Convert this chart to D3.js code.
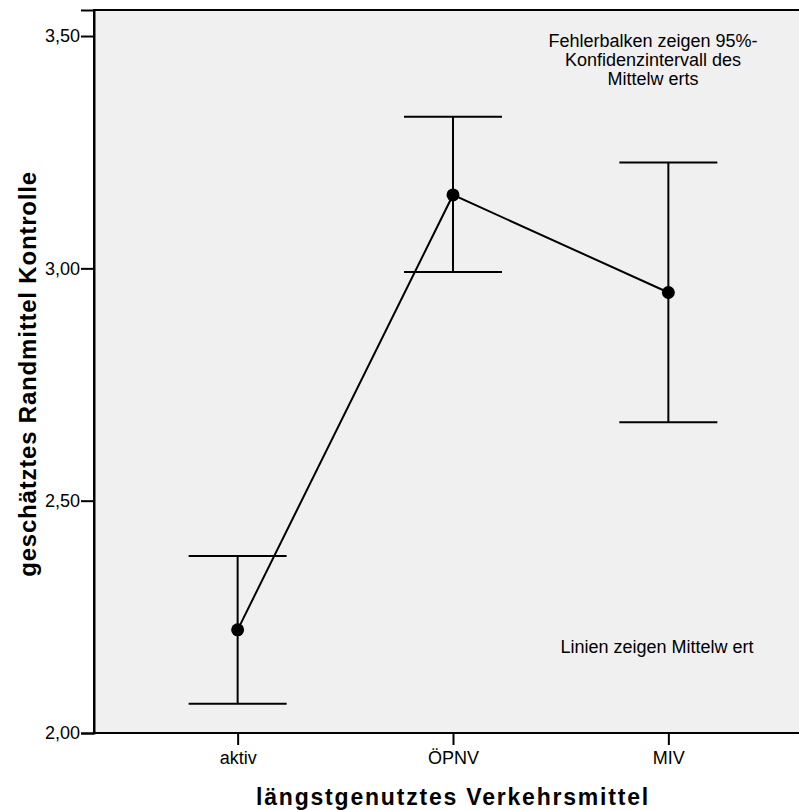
<!DOCTYPE html>
<html>
<head>
<meta charset="utf-8">
<script src="https://cdn.jsdelivr.net/npm/d3@7"></script>
<style>
  body { margin: 0; background: #fff; }
  text { font-family: "Liberation Sans", Arial, sans-serif; fill: #000; }
</style>
</head>
<body>
<div id="chart"></div>
<script>
const width = 799;
const height = 810;
const margin = { top: 10, bottom: 77, left: 94, right: -13 };

// data
const categories = ['aktiv', 'ÖPNV', 'MIV'];
const means = [2.222, 3.158, 2.948];
const lower = [2.063, 2.992, 2.669];
const upper = [2.381, 3.326, 3.228];
const yTicks = [2.0, 2.5, 3.0, 3.5];

const data = categories.map((c, i) => ({ cat: c, mean: means[i], lo: lower[i], hi: upper[i] }));

const svg = d3.select('#chart')
  .append('svg')
  .attr('width', width)
  .attr('height', height);

const x = d3.scalePoint()
  .domain(categories)
  .range([margin.left, width - margin.right])
  .padding(0.667);

const y = d3.scaleLinear()
  .domain([2.0, 3.556])
  .range([height - margin.bottom, margin.top]);

// plot background
svg.append('rect')
  .attr('x', margin.left)
  .attr('y', margin.top)
  .attr('width', width - margin.left + 5)
  .attr('height', y(2.0) - margin.top)
  .attr('fill', '#f0f0f0')
  .attr('stroke', '#000')
  .attr('stroke-width', 2);

// axes
const fmt = d => d3.format('.2f')(d).replace('.', ',');
const font = '"Liberation Sans", Arial, sans-serif';

svg.append('g')
  .attr('transform', `translate(${margin.left},0)`)
  .call(d3.axisLeft(y).tickValues(yTicks).tickFormat(fmt).tickSize(13).tickPadding(1))
  .call(g => g.select('.domain').attr('stroke-width', 2))
  .call(g => g.selectAll('.tick line').attr('stroke-width', 2))
  .call(g => g.selectAll('.tick text').attr('font-size', '18px').attr('font-family', font));

svg.append('g')
  .attr('transform', `translate(0,${y(2.0)})`)
  .call(d3.axisBottom(x).tickSize(12).tickPadding(6))
  .call(g => g.select('.domain').remove())
  .call(g => g.selectAll('.tick line').attr('stroke-width', 2))
  .call(g => g.selectAll('.tick text').attr('font-size', '18px').attr('font-family', font));

// error bars
const capW = 49;
const bars = svg.append('g').attr('stroke', '#000').attr('stroke-width', 2);

bars.selectAll('.v')
  .data(data)
  .join('line')
    .attr('x1', d => x(d.cat)).attr('x2', d => x(d.cat))
    .attr('y1', d => y(d.lo)).attr('y2', d => y(d.hi));

bars.selectAll('.top')
  .data(data)
  .join('line')
    .attr('x1', d => x(d.cat) - capW).attr('x2', d => x(d.cat) + capW)
    .attr('y1', d => y(d.hi)).attr('y2', d => y(d.hi));

bars.selectAll('.bot')
  .data(data)
  .join('line')
    .attr('x1', d => x(d.cat) - capW).attr('x2', d => x(d.cat) + capW)
    .attr('y1', d => y(d.lo)).attr('y2', d => y(d.lo));

// mean line
svg.append('path')
  .datum(data)
  .attr('fill', 'none')
  .attr('stroke', '#000')
  .attr('stroke-width', 2)
  .attr('d', d3.line().x(d => x(d.cat)).y(d => y(d.mean)));

svg.selectAll('.pt')
  .data(data)
  .join('circle')
    .attr('cx', d => x(d.cat))
    .attr('cy', d => y(d.mean))
    .attr('r', 6.5)
    .attr('fill', '#000');

// notes
const note = svg.append('text')
  .attr('text-anchor', 'middle')
  .attr('font-size', '18px');
['Fehlerbalken zeigen 95%-', 'Konfidenzintervall des', 'Mittelw erts'].forEach((t, i) => {
  note.append('tspan').attr('x', 653).attr('y', 47 + i * 19).text(t);
});

svg.append('text')
  .attr('x', 657).attr('y', 653)
  .attr('text-anchor', 'middle')
  .attr('font-size', '18px')
  .text('Linien zeigen Mittelw ert');

// axis titles
svg.append('text')
  .attr('x', 453).attr('y', 805)
  .attr('text-anchor', 'middle')
  .attr('font-size', '23px')
  .attr('font-weight', 'bold')
  .attr('letter-spacing', '1.8px')
  .text('längstgenutztes Verkehrsmittel');

svg.append('text')
  .attr('transform', 'translate(36,374) rotate(-90)')
  .attr('text-anchor', 'middle')
  .attr('font-size', '24px')
  .attr('font-weight', 'bold')
  .attr('letter-spacing', '0.8px')
  .text('geschätztes Randmittel Kontrolle');
</script>
</body>
</html>
